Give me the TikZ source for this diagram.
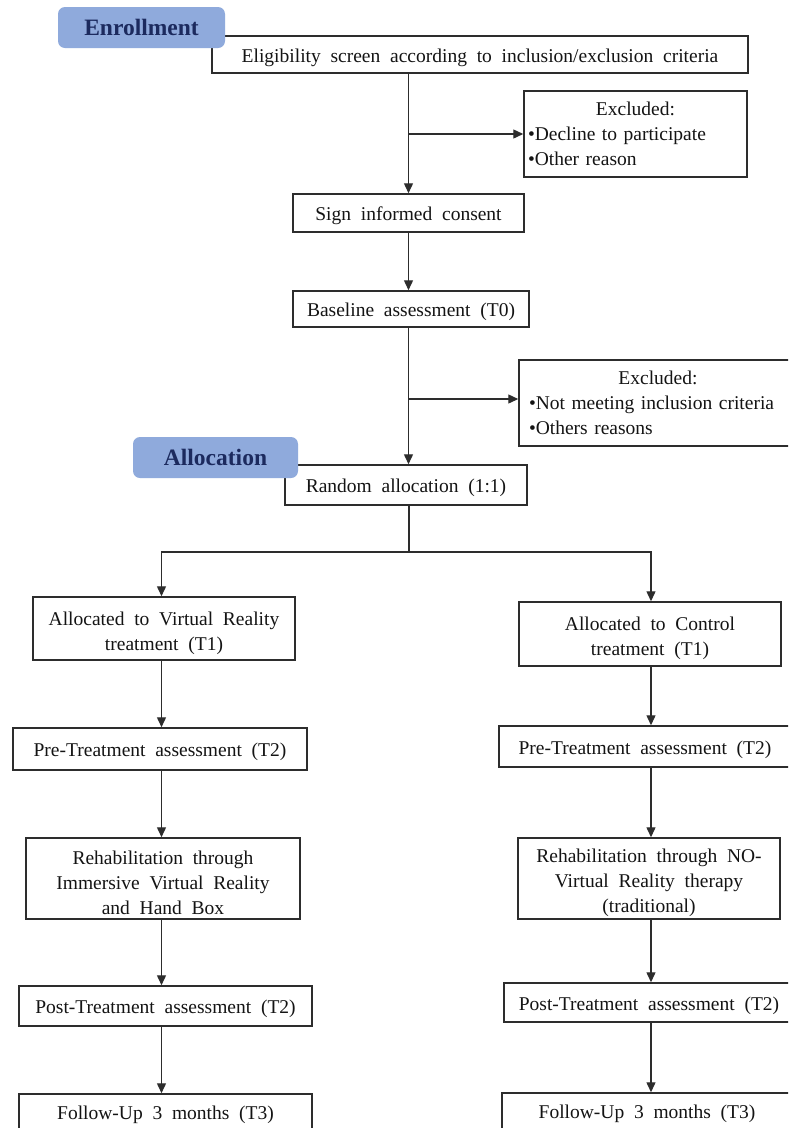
\documentclass[tikz,border=0pt]{standalone}
\usepackage{fontspec}
\setmainfont{Liberation Serif}[WordSpace=2.0]
\usetikzlibrary{arrows.meta}
\definecolor{tabblue}{RGB}{143,170,220}
\definecolor{tabtext}{RGB}{28,42,94}
\definecolor{linec}{RGB}{45,45,45}
\definecolor{txt}{RGB}{20,20,20}
\newcommand{\topstrut}{\rule{0pt}{22.5pt}}
\tikzset{
  sz/.style 2 args={minimum width=#1pt,minimum height=#2pt},
  box/.style={draw=linec, line width=1.5pt, inner sep=0pt, fill=white,
    font=\fontsize{19.5}{25.3}\selectfont, text=txt, align=center},
  sline/.style={box, execute at begin node={\rule{0pt}{20pt}}},
  tab/.style={fill=tabblue, rounded corners=7pt, inner sep=0pt,
    font=\fontsize{23.5}{28}\selectfont\bfseries, text=tabtext},
  arr/.style={draw=linec, line width=1.4pt, -{Triangle[length=10pt,width=9pt]}},
  ln/.style={draw=linec, line width=1.4pt}
}
\begin{document}
\begin{tikzpicture}[x=1pt,y=-1pt]
\useasboundingbox (0,0) rectangle (788,1128);
\clip (0,0) rectangle (788,1128);
\fill[white] (0,0) rectangle (788,1128);

% main column
\node[sline, sz={536}{37}] (elig) at (480,54.5) {Eligibility screen according to inclusion/exclusion criteria};
\node[box, sz={223}{86}, text width=215pt, align=left] (exc1) at (635.5,134)
  {\makebox[\linewidth]{Excluded:}\\•Decline to participate\\•Other reason};
\node[sline, sz={231}{38}] (sign) at (408.5,213) {Sign informed consent};
\node[sline, sz={236}{36}] (base) at (411,309) {Baseline assessment (T0)};
\node[box, sz={278}{86}, text width=258pt, align=left] (exc2) at (658,403)
  {\makebox[\linewidth]{Excluded:}\\•Not meeting inclusion criteria\\•Others reasons};
\node[sline, sz={242}{40}] (rand) at (406,485) {Random allocation (1:1)};

% left arm
\node[box, sz={262}{63}] (va) at (164,628.5) {\topstrut Allocated to Virtual Reality\\treatment (T1)};
\node[sline, sz={294}{42}] (preL) at (160,749) {Pre-Treatment assessment (T2)};
\node[box, sz={274}{81}] (rehabL) at (163,878.5) {\topstrut Rehabilitation through\\Immersive Virtual Reality\\and Hand Box};
\node[sline, sz={293}{40}] (postL) at (165.5,1006) {Post-Treatment assessment (T2)};
\node[sline, sz={293}{36}] (folL) at (165.5,1112) {Follow-Up 3 months (T3)};

% right arm
\node[box, sz={262}{64}] (ctl) at (650,634) {\topstrut Allocated to Control\\treatment (T1)};
\node[sline, sz={292}{41}] (preR) at (645,746.5) {Pre-Treatment assessment (T2)};
\node[box, sz={262}{81}] (rehabR) at (649,878.5) {\topstrut Rehabilitation through NO-\\Virtual Reality therapy\\(traditional)};
\node[sline, sz={290}{39}] (postR) at (649,1002.5) {Post-Treatment assessment (T2)};
\node[sline, sz={290}{36}] (folR) at (647,1111) {Follow-Up 3 months (T3)};

% tabs
\node[tab, sz={167}{41}] (enr) at (141.5,27.5) {Enrollment};
\node[tab, sz={165}{41}] (alo) at (215.5,457.5) {Allocation};

\coordinate (cL) at (161.5,0);
\coordinate (cR) at (651,0);
\coordinate (split) at (409,552);

% connectors main column
\draw[arr] (elig.south -| sign.north) -- (sign.north);
\draw[arr] (exc1.west -| sign.north) -- (exc1.west);
\draw[arr] (sign.south) -- (sign.south |- base.north);
\draw[arr] (base.south -| sign.south) -- (rand.north -| sign.south);
\draw[arr] ([yshift=4pt]exc2.west -| sign.south) -- ([yshift=4pt]exc2.west);
\draw[ln] (rand.south -| split) -- (split);
\draw[arr] (split) -| (va.north -| cL);
\draw[arr] (split) -| (ctl.north -| cR);

% left column
\draw[arr] (va.south -| cL) -- (preL.north -| cL);
\draw[arr] (preL.south -| cL) -- (rehabL.north -| cL);
\draw[arr] (rehabL.south -| cL) -- (postL.north -| cL);
\draw[arr] (postL.south -| cL) -- (folL.north -| cL);

% right column
\draw[arr] (ctl.south -| cR) -- (preR.north -| cR);
\draw[arr] (preR.south -| cR) -- (rehabR.north -| cR);
\draw[arr] (rehabR.south -| cR) -- (postR.north -| cR);
\draw[arr] (postR.south -| cR) -- (folR.north -| cR);
\end{tikzpicture}
\end{document}
